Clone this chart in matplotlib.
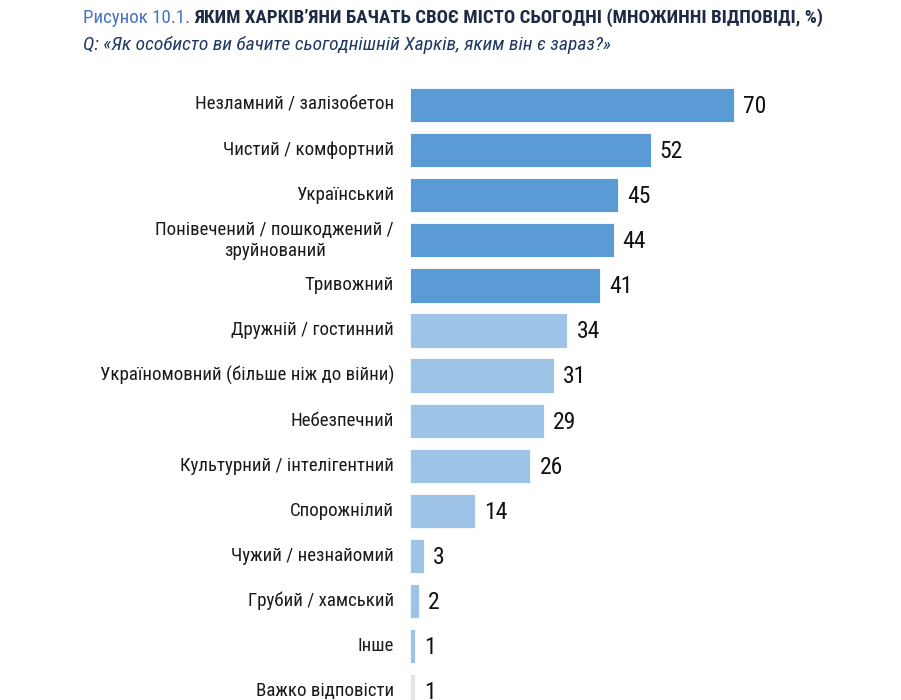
import matplotlib
matplotlib.use("Agg")
import matplotlib.pyplot as plt

categories = [
    "Незламний / залізобетон",
    "Чистий / комфортний",
    "Український",
    "Понівечений / пошкоджений /\nзруйнований",
    "Тривожний",
    "Дружній / гостинний",
    "Україномовний (більше ніж до війни)",
    "Небезпечний",
    "Культурний / інтелігентний",
    "Спорожнілий",
    "Чужий / незнайомий",
    "Грубий / хамський",
    "Інше",
    "Важко відповісти",
]
values = [70, 52, 45, 44, 41, 34, 31, 29, 26, 14, 3, 2, 1, 1]
colors = ["#5B9BD5"] * 5 + ["#9DC3E6"] * 8 + ["#E3E3E3"]

plt.rcParams["font.family"] = ["Liberation Sans Narrow", "Roboto Condensed", "Liberation Sans", "DejaVu Sans"]

W, H = 901, 700
fig = plt.figure(figsize=(W / 100, H / 100), dpi=100)

# bars start at x=410 px, 4.63 px per percent; rows 45.1 px apart starting at y=105
px_per_unit = 4.63
left_px = 410
ax = fig.add_axes([left_px / W, 0, 1 - left_px / W, 1])
ax.set_xlim(0, (W - left_px) / px_per_unit)
row0, step = 105, 45.1
ax.set_ylim((H - row0) / step, -row0 / step)
ax.axis("off")

ypos = list(range(len(values)))
ax.barh(ypos, values, height=0.76, color=colors, edgecolor="white", linewidth=0.6)
for y, v, lab in zip(ypos, values, categories):
    ax.text(v + 9 / px_per_unit, y + 0.03, str(v), va="center", ha="left",
            fontsize=17, color="#111111")
    ax.text(-16 / px_per_unit, y, lab, va="center", ha="right", multialignment="center",
            fontsize=13.6, color="#1a1a1a", linespacing=1.25)

# title
t1 = fig.text(83 / W, 1 - 18 / H, "Рисунок 10.1. ", fontsize=13.6, color="#4472C4",
              va="center", ha="left")
fig.canvas.draw()
bb = t1.get_window_extent()
fig.text(bb.x1 / W, 1 - 18 / H, "ЯКИМ ХАРКІВ’ЯНИ БАЧАТЬ СВОЄ МІСТО СЬОГОДНІ (МНОЖИННІ ВІДПОВІДІ, %)",
         fontsize=13.6, fontweight="bold", color="#1F2A44", va="center", ha="left")
fig.text(83 / W, 1 - 45 / H, "Q: «Як особисто ви бачите сьогоднішній Харків, яким він є зараз?»",
         fontsize=14, style="italic", color="#1F3864", va="center", ha="left")

fig.savefig("out.png", dpi=100)
